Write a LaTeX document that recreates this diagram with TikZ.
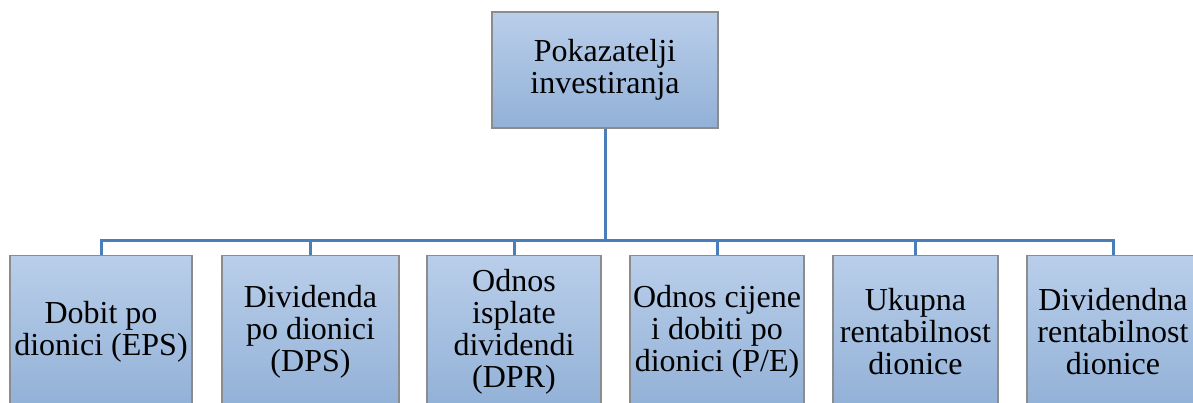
\documentclass[tikz,border=0pt]{standalone}
\usepackage{fontspec}
\setmainfont{Liberation Serif}
\usepackage{tikz}
\usepackage{xcolor}
\usetikzlibrary{positioning}

\definecolor{boxtop}{RGB}{185,206,234}
\definecolor{boxbottom}{RGB}{146,177,215}
\definecolor{boxline}{RGB}{140,140,140}
\definecolor{linkline}{RGB}{74,126,187}

\begin{document}
\begin{tikzpicture}[
    x=1pt, y=1pt,
    font=\fontsize{32}{32}\selectfont,
    root/.style={rectangle, draw=boxline, line width=1.5pt, top color=boxtop, bottom color=boxbottom, minimum width=226pt, minimum height=116pt, align=center},
    leaf/.style={rectangle, draw=boxline, line width=1.5pt, top color=boxtop, bottom color=boxbottom, minimum height=152pt, anchor=north, align=center, inner sep=0pt},
    link/.style={draw=linkline, line width=3pt}
]
\clip (0,0) rectangle (1193,403);

\node (root) [root] at (605,333) {Pokazatelji\\investiranja};

\node (eps) [leaf, minimum width=182pt] at (101,148) {Dobit po\\dionici (EPS)};
\node (dps) [leaf, minimum width=177pt] at (310.5,148) {Dividenda\\po dionici\\(DPS)};
\node (dpr) [leaf, minimum width=174pt] at (514,148) {Odnos\\isplate\\dividendi\\(DPR)};
\node (pe) [leaf, minimum width=174pt] at (717,148) {Odnos cijene\\i dobiti po\\dionici (P/E)};
\node (ukupna) [leaf, minimum width=165pt] at (915.5,148) {Ukupna\\rentabilnost\\dionice};
\node (divrent) [leaf, minimum width=172pt] at (1113,148) {Dividendna\\rentabilnost\\dionice};

\draw[link] (root.south) -- ++(0,-112) -| (eps.north);
\draw[link] (root.south) -- ++(0,-112) -| (dps.north);
\draw[link] (root.south) -- ++(0,-112) -| (dpr.north);
\draw[link] (root.south) -- ++(0,-112) -| (pe.north);
\draw[link] (root.south) -- ++(0,-112) -| (ukupna.north);
\draw[link] (root.south) -- ++(0,-112) -| (divrent.north);

\end{tikzpicture}
\end{document}
